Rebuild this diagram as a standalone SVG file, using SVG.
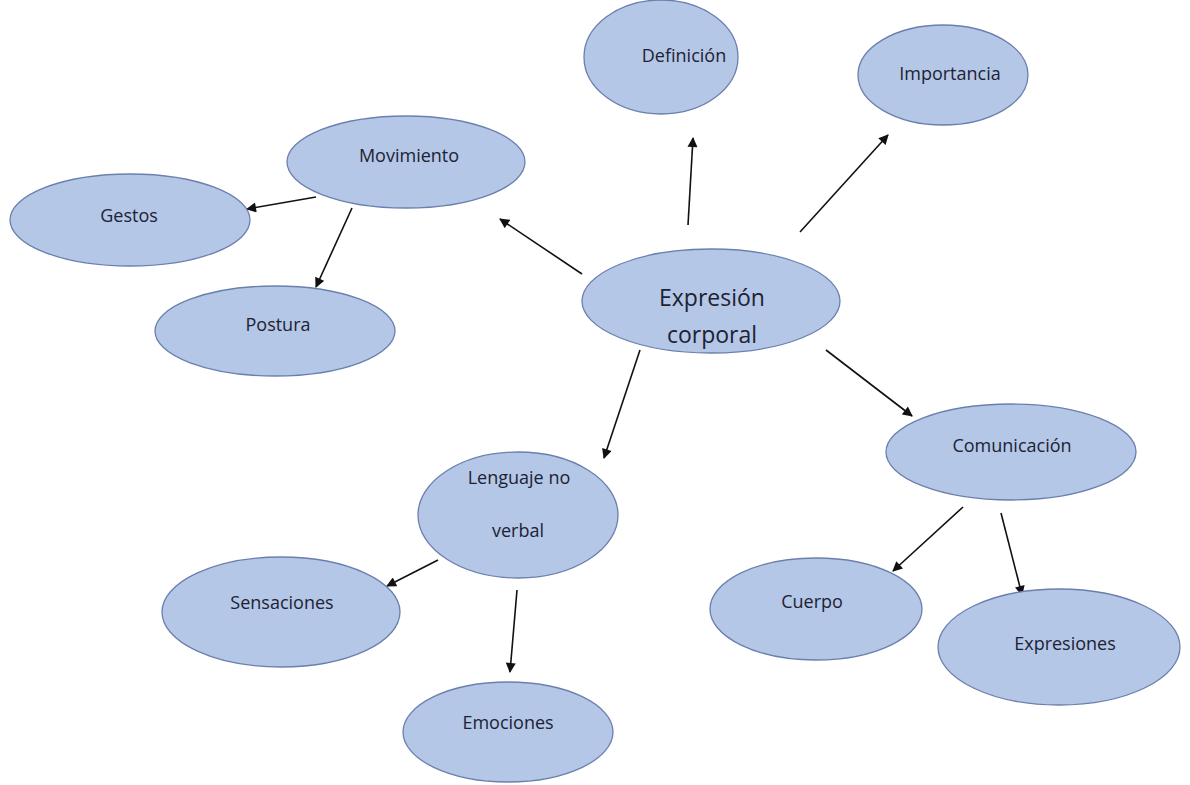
<svg xmlns="http://www.w3.org/2000/svg" width="1190" height="785" viewBox="0 0 1190 785">
<defs>
<style>
.n ellipse{fill:#b4c7e7;stroke:#6b7fae;stroke-width:1.3}
.n text{font-family:"Open Sans","Liberation Sans",sans-serif;font-size:18px;fill:#1d2233;text-anchor:middle;dominant-baseline:middle}
.big text{font-size:23px}
.c line{stroke:#111;stroke-width:1.6;marker-end:url(#ah)}
</style>
<marker id="ah" viewBox="0 0 10 10" refX="9" refY="5" markerWidth="11" markerHeight="10" markerUnits="userSpaceOnUse" orient="auto">
<path d="M0,0 L10,5 L0,10 z" fill="#111"/>
</marker>
</defs>
<rect width="1190" height="785" fill="#fff"/>
<g class="c">
<line x1="688" y1="225" x2="693" y2="138"/>
<line x1="800" y1="232" x2="888" y2="135"/>
<line x1="582" y1="274" x2="500" y2="219"/>
<line x1="826" y1="350" x2="912" y2="416"/>
<line x1="640" y1="350" x2="604" y2="458"/>
<line x1="316" y1="197" x2="247" y2="209"/>
<line x1="352" y1="208" x2="316" y2="287"/>
<line x1="438" y1="560" x2="387" y2="586"/>
<line x1="517" y1="590" x2="510" y2="672"/>
<line x1="963" y1="507" x2="893" y2="571"/>
<line x1="1001" y1="513" x2="1022" y2="595"/>
</g>
<g id="definicion" class="n"><ellipse cx="661" cy="57" rx="77" ry="57"/><text x="684" y="57">Definición</text></g>
<g id="importancia" class="n"><ellipse cx="943" cy="75" rx="85" ry="50"/><text x="950" y="75">Importancia</text></g>
<g id="movimiento" class="n"><ellipse cx="406" cy="162" rx="119" ry="46"/><text x="409" y="157">Movimiento</text></g>
<g id="gestos" class="n"><ellipse cx="130" cy="220" rx="120" ry="46"/><text x="129" y="217">Gestos</text></g>
<g id="postura" class="n"><ellipse cx="275" cy="331" rx="120" ry="45"/><text x="278" y="326">Postura</text></g>
<g id="expresion" class="n big"><ellipse cx="711" cy="301" rx="129" ry="52"/><text x="712" y="300">Expresión</text><text x="712" y="337">corporal</text></g>
<g id="comunicacion" class="n"><ellipse cx="1011" cy="452" rx="125" ry="48"/><text x="1012" y="447">Comunicación</text></g>
<g id="lenguaje" class="n"><ellipse cx="518" cy="515" rx="100" ry="63"/><text x="519" y="479">Lenguaje no</text><text x="518" y="532">verbal</text></g>
<g id="sensaciones" class="n"><ellipse cx="281" cy="612" rx="119" ry="55"/><text x="282" y="604">Sensaciones</text></g>
<g id="emociones" class="n"><ellipse cx="508" cy="732" rx="105" ry="50"/><text x="508" y="724">Emociones</text></g>
<g id="cuerpo" class="n"><ellipse cx="816" cy="609" rx="106" ry="51"/><text x="812" y="603">Cuerpo</text></g>
<g id="expresiones" class="n"><ellipse cx="1059" cy="647" rx="121" ry="58"/><text x="1065" y="645">Expresiones</text></g>
</svg>
